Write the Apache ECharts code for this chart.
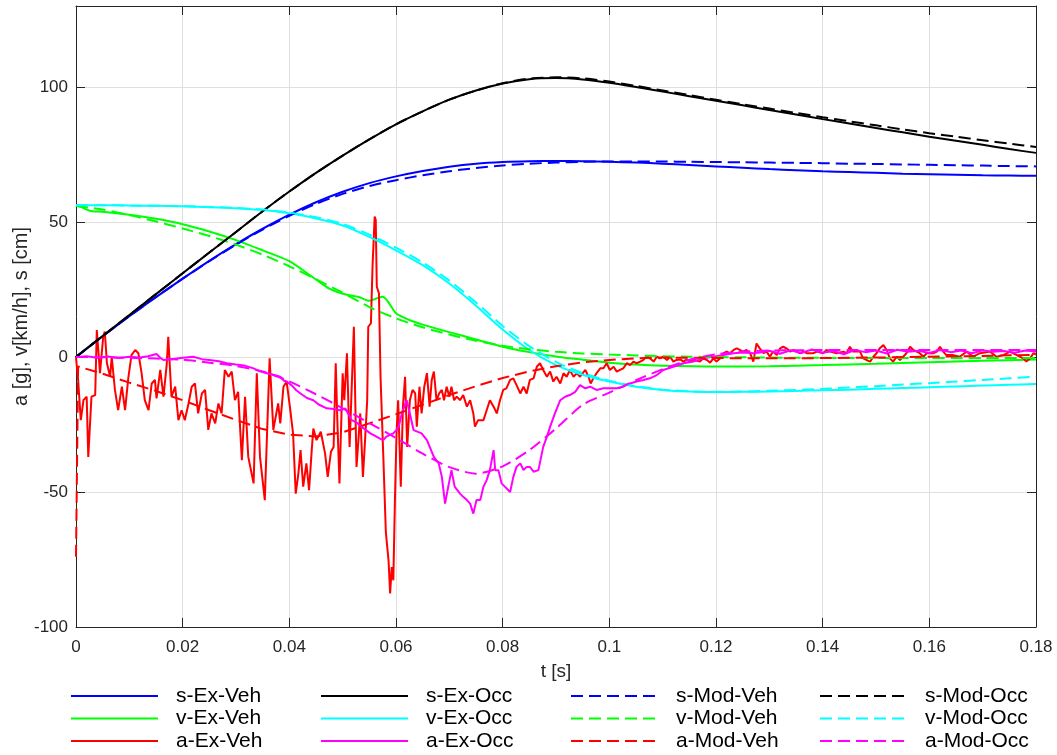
<!DOCTYPE html>
<html><head><meta charset="utf-8">
<script src="https://cdn.jsdelivr.net/npm/echarts@6/dist/echarts.min.js"></script>
<style>html,body{margin:0;padding:0;background:#fff}#c{width:1057px;height:755px}</style>
</head><body><div id="c"></div>
<script>
// ---------- data ----------
const seriesNames = ['s-Ex-Veh','v-Ex-Veh','a-Ex-Veh','s-Ex-Occ','v-Ex-Occ','a-Ex-Occ',
                     's-Mod-Veh','v-Mod-Veh','a-Mod-Veh','s-Mod-Occ','v-Mod-Occ','a-Mod-Occ'];
const xTicks = [0,0.02,0.04,0.06,0.08,0.1,0.12,0.14,0.16,0.18];
const yTicks = [-100,-50,0,50,100];

const tGrid = [0,0.005,0.01,0.015,0.02,0.025,0.03,0.035,0.04,0.045,0.05,0.055,0.06,0.065,0.07,0.075,0.08,0.085,0.09,0.095,
               0.1,0.105,0.11,0.115,0.12,0.125,0.13,0.135,0.14,0.145,0.15,0.155,0.16,0.165,0.17,0.175,0.18];

const sExVeh = [0,7.7,15.1,22.2,29,35.6,41.8,47.5,52.7,57.3,61.2,64.4,66.9,68.9,70.5,71.6,72.2,72.5,72.6,72.5,
                72.3,72.0,71.6,71.1,70.6,70.1,69.6,69.2,68.8,68.5,68.2,67.9,67.7,67.5,67.3,67.2,67.1];
const sExOcc = [0,7.8,15.5,23.3,31,38.7,46.3,54,61.3,68.2,74.6,80.6,86.2,91,95.3,98.7,101.3,102.9,103.3,102.8,
                101.6,100,98.3,96.6,94.9,93.2,91.5,89.8,88.1,86.5,84.8,83.2,81.6,80.1,78.6,77.0,75.6];
const sModVeh = [0,7.7,15.1,22.2,29,35.5,41.6,47.2,52.3,56.7,60.4,63.3,65.5,67.3,68.8,70.0,70.9,71.6,72.0,72.3,
                 72.4,72.4,72.4,72.3,72.2,72.1,72.0,71.9,71.8,71.6,71.5,71.3,71.2,71.0,70.9,70.7,70.6];
const sModOcc = [0,7.8,15.5,23.3,31,38.7,46.3,54,61.3,68.2,74.6,80.6,86.2,91,95.3,98.7,101.4,103.1,103.6,103.2,
                 102.0,100.4,98.7,97.0,95.3,93.6,92.0,90.4,88.8,87.3,85.8,84.3,82.9,81.6,80.3,79.0,77.8];
const vExOcc = [56.2,56.2,56.1,56.0,55.8,55.5,55.1,54.4,53.2,51.3,48.7,44.5,39.5,34.0,27.2,19.0,10.2,2.6,-3.0,-6.6,
                -9.1,-11.0,-12.2,-12.8,-13.0,-12.9,-12.8,-12.6,-12.3,-12.1,-11.8,-11.5,-11.2,-10.9,-10.6,-10.3,-10.0];
const vModOcc = [56.2,56.2,56.1,56.0,55.8,55.6,55.2,54.6,53.5,51.8,49.3,45.3,40.5,35.0,28.3,20.2,11.5,4.0,-1.8,-6.0,
                 -8.8,-10.8,-12.1,-12.7,-12.9,-12.8,-12.5,-12.2,-11.8,-11.3,-10.8,-10.2,-9.7,-9.1,-8.5,-7.9,-7.3];
const vModVeh = [56,54.6,52.6,50.2,47.6,44.8,41.6,37.9,33.6,28.8,23.8,18.5,14.3,11.0,8.3,6.0,4.2,2.9,1.9,1.3,
                 0.9,0.6,0.3,0.1,0,-0.1,-0.2,-0.3,-0.3,-0.4,-0.4,-0.4,-0.4,-0.4,-0.4,-0.4,-0.4];
const aModOcc = [0,-0.1,-0.3,-0.6,-1.0,-2.1,-3.3,-5.4,-9.0,-13.8,-19.0,-24.5,-30.0,-35.8,-40.8,-43.2,-40.5,-34.5,-26.5,-17.7,
                 -13.2,-8.6,-4.5,-1.0,1.0,2.0,2.4,2.5,2.6,2.6,2.6,2.6,2.6,2.6,2.6,2.6,2.6];

const vExVeh = [[0,56],[0.001,55.5],[0.002,54.6],[0.003,54],[0.005,53.8],[0.01,52.7],[0.015,51.2],[0.02,49.2],[0.025,46.5],
  [0.03,43.3],[0.035,39.5],[0.04,35.5],[0.045,28.7],[0.0475,25.3],[0.05,23.4],[0.053,22.2],[0.055,20.8],[0.0565,21.8],
  [0.0575,22.3],[0.0585,20.5],[0.06,16.2],[0.0625,13.7],[0.065,12.0],[0.07,9.2],[0.075,6.5],[0.08,3.8],[0.085,1.8],
  [0.09,0.2],[0.095,-1.0],[0.1,-2.1],[0.105,-2.8],[0.11,-3.2],[0.12,-3.5],[0.13,-3.4],[0.14,-3.0],[0.15,-2.5],
  [0.16,-1.9],[0.17,-1.4],[0.18,-0.9]];

const aModVeh = [[0,-74],[0.0004,-3.5],[0.005,-6.2],[0.01,-9.5],[0.015,-12.6],[0.02,-16],[0.025,-19.7],[0.03,-23.3],
  [0.035,-26.7],[0.04,-28.8],[0.045,-29.4],[0.05,-27.9],[0.055,-24.6],[0.06,-21.2],[0.065,-17.7],[0.07,-14.1],
  [0.075,-10.8],[0.08,-7.8],[0.085,-5.3],[0.09,-3.4],[0.095,-2.0],[0.1,-1.1],[0.105,-0.5],[0.11,-0.2],[0.12,-0.4],
  [0.13,-0.5],[0.14,-0.4],[0.15,-0.2],[0.16,0.1],[0.17,0.4],[0.18,0.8]];

const aExVeh = [[0,0],[.0001,-2.3],[.0004,-8.5],[.0009,-23.4],[.0014,-16],[.002,-14.7],[.0023,-37],[.0029,-14.7],[.0036,-14.1],
  [.0039,10],[.0045,-6],[.0051,7.5],[.0054,9.4],[.0058,-2.3],[.0064,-7.3],[.0067,0.1],[.0073,-12.2],[.0079,-19.7],
  [.0086,-11],[.0092,-19.7],[.0098,-7.9],[.0104,0.7],[.0111,2.6],[.0117,1.4],[.0123,-6],[.0129,-16],[.0136,-19.7],
  [.0142,-9.8],[.0148,-8.5],[.0151,-15.3],[.0158,-4.8],[.0164,-14.7],[.017,-3],[.0173,7.5],[.0179,-14.7],[.0186,-11],
  [.0192,-23.4],[.0198,-19.7],[.0204,-23.4],[.0211,-17.2],[.0217,-11],[.0223,-9.8],[.0229,-20.9],[.0236,-13.5],
  [.0242,-12.2],[.0248,-27],[.0254,-20.9],[.0261,-24.6],[.0267,-17.2],[.0273,-20.9],[.0279,-4.8],[.0286,-7.3],
  [.0292,-5.4],[.0298,-16],[.0304,-12.9],[.0311,-38.2],[.0317,-14.7],[.0323,-37],[.0333,-46.8],[.0339,-6],[.0345,-37],
  [.0354,-53],[.0363,-0.5],[.037,-27],[.0379,-17.2],[.0383,-24.6],[.0389,-11],[.0395,-9.1],[.0401,-18.4],[.0407,-28.3],
  [.0412,-50.6],[.0417,-43.1],[.0421,-34.5],[.0426,-48],[.0432,-39.4],[.0437,-49.3],[.0442,-34.5],[.0445,-26.5],
  [.0451,-30.8],[.0459,-27.7],[.0467,-35.7],[.0472,-44.4],[.0478,-35.1],[.0483,-33.3],[.0487,-2.3],[.049,-23.4],
  [.0494,-46.8],[.05,-6],[.0503,-16],[.0508,1.4],[.0513,-33.3],[.0517,-11],[.0521,11.2],[.0526,-40.7],[.0533,-20.9],
  [.0538,-44.4],[.0542,-30.8],[.0546,-16],[.0548,11.2],[.0553,12.5],[.0556,33.5],[.056,52],[.0562,50.8],[.0564,26],
  [.0568,23.6],[.0571,-7.3],[.0576,-35.7],[.0581,-65],[.0586,-75.3],[.0589,-87.6],[.0592,-77.8],[.0595,-82.7],
  [.0598,-53],[.0601,-28.3],[.0604,-16],[.0609,-48],[.0613,-18.4],[.0617,-7.3],[.0621,-33.3],[.0626,-16],[.0631,-12.2],
  [.0636,-13.5],[.0639,-25.8],[.0644,-11],[.0648,-20.9],[.0653,-11],[.0658,-6],[.0663,-18.4],[.0667,-8.5],[.0671,-5.4],
  [.0676,-16],[.0681,-13.5],[.0686,-12.2],[.069,-16],[.0695,-11],[.07,-14.7],[.0704,-11],[.0709,-16],[.0714,-14.7],
  [.072,-16],[.0726,-14.1],[.0733,-18.4],[.0739,-16],[.0745,-20.9],[.0748,-25.8],[.0754,-23.4],[.0764,-23.4],[.077,-19.7],
  [.0776,-16],[.0783,-18.4],[.0789,-20.9],[.0795,-16],[.0801,-12.2],[.0807,-11.6],[.0814,-8.5],[.082,-7.9],[.0826,-10.4],
  [.0833,-13.5],[.0839,-11],[.0845,-13.5],[.0851,-8.5],[.0858,-7.9],[.0864,-3.6],[.087,-2.3],[.0876,-4.8],[.0883,-7.3],
  [.0889,-5.4],[.0895,-9.1],[.0901,-7.3],[.0908,-9.8],[.0914,-6],[.092,-7.3],[.0926,-4.8],[.0933,-7.3],[.0939,-6],
  [.0945,-7.3],[.0955,-4.8],[.0961,-7.3],[.0965,-9.8],[.097,-7.9],[.0976,-6],[.0983,-4.2],[.0989,-4.2],[.0995,-2.3],
  [.1001,-4.8],[.1008,-3.6],[.1014,-5.4],[.102,-4.8],[.1026,-4.2],[.1033,-2.3],[.1039,-3],[.1045,-1.7],[.1051,-2.3],
  [.1058,-1.7],[.1064,-1.1],[.107,0.4],[.1076,-0.5],[.1083,-1.7],[.1089,0.1],[.1095,-0.5],[.1101,0.1],[.1108,-1.1],
  [.1114,0.1],[.112,-1.7],[.1126,-1.1],[.1133,-0.9],[.1139,-1.7],[.1145,-0.9],[.1151,-1.7],[.1158,-0.9],[.117,-1.7],
  [.1176,-0.5],[.1183,-1.1],[.1189,-2.1],[.1195,-0.5],[.1201,-1.7],[.1208,-0.5],[.1214,1.4],[.122,2],[.1226,1.4],
  [.1233,2.6],[.1239,3.2],[.1251,2],[.1257,2.6],[.1264,1.4],[.127,-1.7],[.1276,5],[.1282,3.2],[.1289,1.4],[.1295,2],
  [.1301,0.1],[.1307,2],[.1314,0.7],[.132,3.2],[.1326,3.8],[.1332,3.2],[.1339,2],[.1345,2.6],[.1351,2],[.1357,1.4],
  [.1364,2],[.137,1.4],[.1382,1.4],[.1389,2],[.1401,1.4],[.1407,2.6],[.1414,2],[.1426,1.4],[.1439,2],[.1445,1.4],
  [.1451,3.8],[.1457,2],[.147,2],[.1476,-0.5],[.1482,-1.1],[.1489,-1.7],[.1495,0.1],[.1501,1.4],[.1507,3.2],[.1514,4.4],
  [.152,2.6],[.1526,-0.5],[.1532,-1.7],[.1539,0.1],[.1545,-1.1],[.1551,0.1],[.1557,1.4],[.1564,3.8],[.157,2.6],
  [.1582,1.4],[.1589,0.1],[.1595,1.4],[.1607,1.4],[.1614,2],[.162,3.8],[.1626,2],[.1632,0.7],[.1645,0.7],[.1657,0.1],
  [.167,2],[.1682,0.1],[.1695,1.4],[.1714,2],[.1726,0.1],[.1739,0.7],[.1751,2],[.1764,0.7],[.1776,-0.5],[.1782,-1.7],
  [.1789,-0.5],[.1795,1.4],[.18,1]];

const aExOcc = [[0,0],[.002,0.3],[.004,-0.3],[.006,0.2],[.008,-0.4],[.01,0.1],[.012,-0.2],[.0135,0.3],[.0151,1.1],
  [.0158,-0.3],[.0164,-1.1],[.018,-0.8],[.02,-0.3],[.022,0.1],[.0236,-0.8],[.025,-1.1],[.0268,-1.6],[.0283,-2.3],
  [.03,-2.8],[.0315,-3.1],[.0333,-4.2],[.0345,-5.3],[.0358,-6],[.037,-6.6],[.0383,-7.3],[.039,-8.8],[.0395,-9.1],
  [.0405,-10.6],[.0413,-12.3],[.0421,-13.5],[.0433,-15.2],[.0445,-16],[.0455,-17.6],[.047,-19],[.0483,-19.3],
  [.0495,-19.7],[.0505,-19.1],[.0517,-23.4],[.0528,-24.5],[.0535,-25.8],[.0552,-28.3],[.056,-29.1],[.057,-30.2],
  [.0576,-30.8],[.0582,-29.5],[.0595,-28.3],[.0601,-27],[.0605,-25.8],[.0611,-20.9],[.062,-16],[.0626,-20.9],
  [.0633,-27.1],[.0648,-28.3],[.0658,-30.8],[.0671,-37],[.068,-39.4],[.0686,-44.4],[.0692,-54.3],[.0698,-48],
  [.0704,-41.9],[.071,-48],[.0715,-49.3],[.072,-50.6],[.0726,-51.8],[.0733,-53],[.0739,-54.3],[.0745,-58],[.0751,-53],
  [.0758,-53],[.0764,-48],[.077,-45.6],[.0776,-41.9],[.0783,-34.5],[.0786,-41.9],[.0792,-41.9],[.0798,-46.8],
  [.0804,-48],[.0814,-50],[.082,-44.4],[.0826,-40.7],[.0833,-39.4],[.0839,-41.9],[.0845,-40.7],[.0851,-40.7],
  [.0858,-42.5],[.0867,-41.9],[.0876,-33.3],[.0883,-29.5],[.0889,-25.8],[.0898,-20.9],[.0908,-16],[.0917,-14.7],
  [.0926,-14.1],[.0936,-12.9],[.0945,-10.4],[.0955,-11.6],[.0964,-11],[.0976,-12.2],[.0989,-11.6],[.1001,-11.6],
  [.1014,-11.6],[.1026,-11],[.1039,-9.8],[.1051,-9.1],[.1064,-8.5],[.1076,-7.9],[.1089,-6.7],[.1101,-4.8],[.112,-3.6],
  [.1139,-2.3],[.1158,-1.7],[.1176,-0.5],[.1195,0.1],[.1214,0.7],[.1233,1.4],[.1251,1.7],[.127,1.4],[.1283,1.7],
  [.13,2.3],[.132,1.2],[.134,2.5],[.136,1.5],[.138,2.8],[.14,1.6],[.142,2.2],[.144,1.0],[.146,2.6],[.148,1.8],
  [.15,2.4],[.152,1.3],[.154,2.7],[.156,1.9],[.158,2.3],[.16,1.5],[.162,2.6],[.164,1.8],[.166,2.4],[.168,1.4],
  [.17,2.5],[.172,1.9],[.174,2.2],[.176,1.6],[.178,2.4],[.18,2]];

const seriesColors = ['#0000ff','#00ff00','#ff0000','#000000','#00ffff','#ff00ff',
                      '#0000ff','#00ff00','#ff0000','#000000','#00ffff','#ff00ff'];

// ---------- build ----------
const onGrid = vals => tGrid.map((t, i) => [t, vals[i]]);
const seriesData = [onGrid(sExVeh), vExVeh, aExVeh, onGrid(sExOcc), onGrid(vExOcc), aExOcc,
                    onGrid(sModVeh), onGrid(vModVeh), aModVeh, onGrid(sModOcc), onGrid(vModOcc), onGrid(aModOcc)];
const smoothFlags = [0.25,0.25,false,0.25,0.25,false,0.25,0.25,false,0.25,0.25,0.25];
const FONT = '"Liberation Sans", Arial, Helvetica, sans-serif';
const AX = '#262626';

const series = seriesNames.map((name, i) => ({
  name, type: 'line', data: seriesData[i], xAxisIndex: 0, yAxisIndex: 0,
  showSymbol: false, symbol: 'none', smooth: smoothFlags[i],
  lineStyle: { color: seriesColors[i], width: 2, type: i >= 6 ? [12, 6] : 'solid' },
  itemStyle: { color: seriesColors[i] },
  emphasis: { disabled: true }, silent: true
}));

const legendLeft = [70, 320, 570, 819];
const legends = legendLeft.map((left, c) => ({
  orient: 'vertical', left, top: 685, padding: 0,
  data: seriesNames.slice(c * 3, c * 3 + 3),
  itemWidth: 87, itemHeight: 14, itemGap: 0.5, selectedMode: false,
  itemStyle: { opacity: 0 },
  lineStyle: { opacity: 1 },
  textStyle: { fontFamily: FONT, fontSize: 21, color: '#000', lineHeight: 22, padding: [0, 0, 0, 13] }
}));

const xCommon = { type: 'value', min: xTicks[0], max: xTicks[xTicks.length - 1], interval: xTicks[1] - xTicks[0] };
const yCommon = { type: 'value', min: yTicks[0], max: 130, interval: yTicks[1] - yTicks[0] };

const option = {
  animation: false,
  backgroundColor: '#ffffff',
  grid: { left: 76, right: 21, top: 6, bottom: 128, containLabel: false, outerBoundsMode: 'none' },
  legend: legends,
  xAxis: [
    Object.assign({}, xCommon, {
      position: 'bottom',
      name: 't [s]', nameLocation: 'middle', nameGap: 35, nameMoveOverlap: false,
      nameTextStyle: { fontFamily: FONT, fontSize: 19, color: AX },
      axisLine: { show: true, onZero: false, lineStyle: { color: AX, width: 1 } },
      axisTick: { show: true, inside: true, length: 9, lineStyle: { color: AX } },
      axisLabel: { fontFamily: FONT, fontSize: 17, color: AX, margin: 12,
                   formatter: v => String(+v.toFixed(3)) },
      splitLine: { show: true, lineStyle: { color: '#dfdfdf', width: 1 } }
    }),
    Object.assign({}, xCommon, {
      position: 'top',
      axisLine: { show: true, onZero: false, lineStyle: { color: AX, width: 1 } },
      axisTick: { show: true, inside: true, length: 9, lineStyle: { color: AX } },
      axisLabel: { show: false }, splitLine: { show: false }
    })
  ],
  yAxis: [
    Object.assign({}, yCommon, {
      position: 'left',
      name: 'a [g], v[km/h], s [cm]', nameLocation: 'middle', nameGap: 45, nameMoveOverlap: false,
      nameTextStyle: { fontFamily: FONT, fontSize: 20, color: AX },
      axisLine: { show: true, onZero: false, lineStyle: { color: AX, width: 1 } },
      axisTick: { show: true, inside: true, length: 9, lineStyle: { color: AX } },
      axisLabel: { fontFamily: FONT, fontSize: 17, color: AX, margin: 8, showMaxLabel: false,
                   formatter: v => (yTicks.indexOf(v) >= 0 ? String(v) : '') },
      splitLine: { show: true, lineStyle: { color: '#dfdfdf', width: 1 } }
    }),
    Object.assign({}, yCommon, {
      position: 'right',
      axisLine: { show: true, onZero: false, lineStyle: { color: AX, width: 1 } },
      axisTick: { show: true, inside: true, length: 9, lineStyle: { color: AX } },
      axisLabel: { show: false }, splitLine: { show: false }
    })
  ],
  series
};

const chart = echarts.init(document.getElementById('c'), null, { renderer: 'canvas' });
chart.setOption(option);
</script></body></html>
